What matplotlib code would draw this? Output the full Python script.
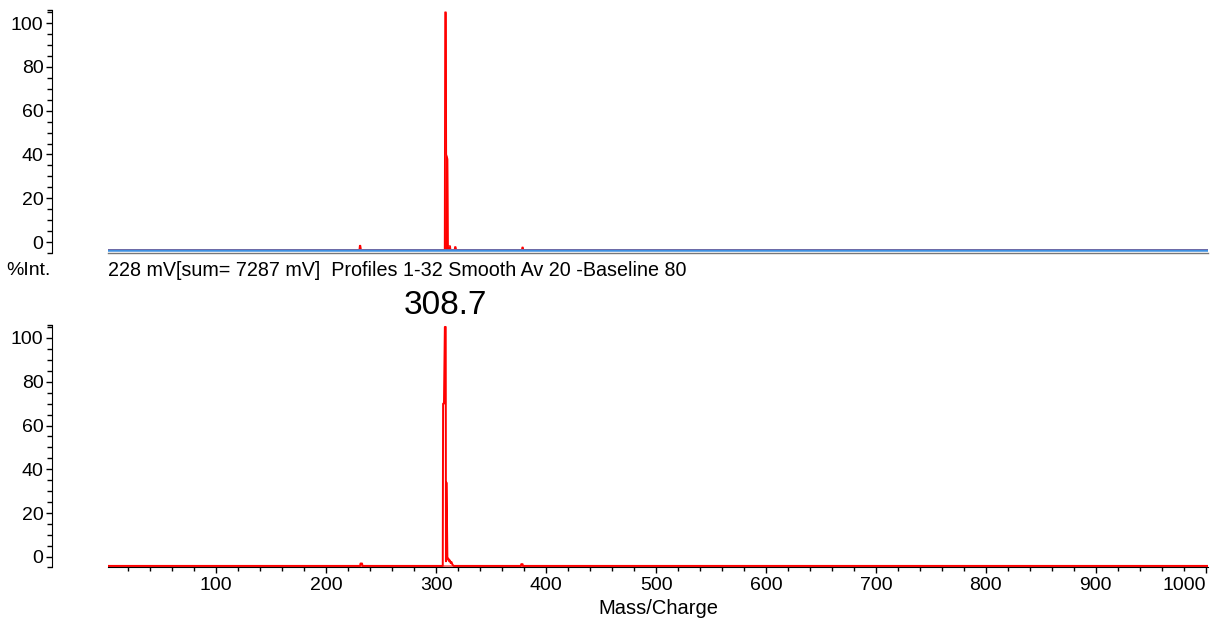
import matplotlib.pyplot as plt
from matplotlib.ticker import MultipleLocator, FixedLocator

plt.rcParams['font.family'] = ['Liberation Sans', 'DejaVu Sans']

# upper trace (raw profile), m/z and %Int
top_mz = [1.5, 230.0, 230.4, 231.2, 231.6, 307.6, 308.0, 309.0, 309.3, 310.4, 310.8,
          312.8, 313.2, 316.6, 317.0, 317.8, 318.2, 377.8, 378.2, 379.0, 379.4, 1002]
top_int = [-3.5, -3.5, -1.6, -1.6, -3.5, -3.5, 105, 105, 40, 38, -1.8,
           -1.8, -3.5, -3.5, -2.2, -2.2, -3.5, -3.5, -2.4, -2.4, -3.5, -3.5]

# lower trace (smoothed, baseline corrected)
bot_mz = [1.5, 230.8, 231.2, 232.6, 233.0, 306.0, 306.3, 307.1, 307.9, 308.7, 308.9,
          309.3, 309.8, 310.2, 310.6, 311.2, 311.8, 312.5, 313.2, 314.0, 314.8, 316.0,
          377.0, 377.4, 378.6, 379.0, 1002]
bot_int = [-4.1, -4.1, -3.0, -3.0, -4.1, -4.1, 70, 70, 105, 105, -2,
           34, 18, 0, -1.2, -0.8, -2.0, -1.6, -2.8, -2.4, -3.5, -4.1,
           -4.1, -3.3, -3.3, -4.1, -4.1]

peak_label = 308.7
xticks = [100, 200, 300, 400, 500, 600, 700, 800, 900, 1000]
yticks = [0, 20, 40, 60, 80, 100]
header = '228 mV[sum= 7287 mV]  Profiles 1-32 Smooth Av 20 -Baseline 80'

fig = plt.figure(figsize=(12.16, 6.27), dpi=100)
ax1 = fig.add_axes([0.0888, 0.5965, 0.9046, 0.3876])
ax2 = fig.add_axes([0.0888, 0.0957, 0.9046, 0.3860])


def style(ax, ylo, yhi):
    ax.set_xlim(1.5, 1002)
    ax.set_ylim(ylo, yhi)
    for s in ['top', 'right']:
        ax.spines[s].set_visible(False)
    ax.spines['left'].set_position(('outward', 40.5))
    ax.set_yticks(yticks)
    ax.yaxis.set_minor_locator(FixedLocator(
        [v for v in range(-5, 106, 5) if v % 20 != 0 and ylo < v < yhi] + [ylo, yhi]))
    ax.tick_params(axis='y', which='major', length=4, width=1, pad=2, labelsize=14)
    ax.tick_params(axis='y', which='minor', length=3.5, width=1)


style(ax1, -5.0, 106)
ax1.fill_between(top_mz, top_int, -3.5, color='#ff0000', lw=0)
ax1.plot(top_mz, top_int, color='#ff0000', lw=1.0)
ax1.axhline(-3.5, color='#3d8fe0', lw=1.8)
ax1.spines['bottom'].set_color('#777777')
ax1.spines['bottom'].set_linewidth(1.0)
ax1.set_xticks([])

style(ax2, -4.6, 105.9)
ax2.plot(bot_mz, bot_int, color='#ff0000', lw=1.4)
ax2.axhline(-4.1, color='#ff6060', lw=1.2, zorder=1)
ax2.set_xticks(xticks)
ax2.xaxis.set_minor_locator(MultipleLocator(20))
ax2.tick_params(axis='x', which='major', length=4.5, width=1, pad=3, labelsize=14)
ax2.tick_params(axis='x', which='minor', length=3, width=1)
ax2.get_xticklabels()[-1].set_horizontalalignment('right')
ax2.set_xlabel('Mass/Charge', fontsize=14.5, labelpad=3)
ax2.text(peak_label, 107.5, '308.7', ha='center', va='bottom', fontsize=24, clip_on=False)

fig.text(0.005, 0.568, '%Int.', fontsize=14, va='center')
fig.text(0.0888, 0.568, header, fontsize=14.2, va='center')

fig.savefig('out.png', dpi=100)
